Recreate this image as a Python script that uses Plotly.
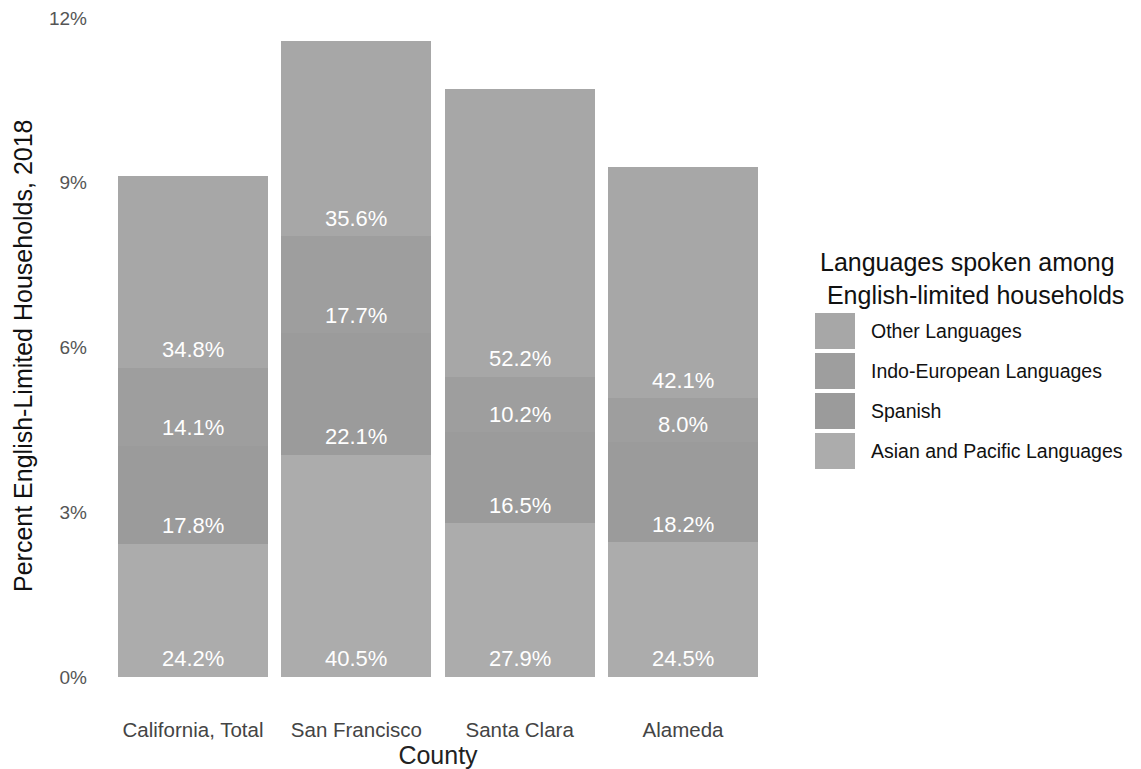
import numpy as np
import plotly.graph_objects as go

counties = ["California, Total", "San Francisco", "Santa Clara", "Alameda"]

# segment heights (percent of households)
asian = [2.43, 4.05, 2.80, 2.45]
spanish = [1.78, 2.21, 1.66, 1.82]
indo = [1.42, 1.77, 1.01, 0.81]
other = [3.50, 3.56, 5.24, 4.20]

# printed labels
asian_lbl = ["24.2%", "40.5%", "27.9%", "24.5%"]
spanish_lbl = ["17.8%", "22.1%", "16.5%", "18.2%"]
indo_lbl = ["14.1%", "17.7%", "10.2%", "8.0%"]
other_lbl = ["34.8%", "35.6%", "52.2%", "42.1%"]

y_ticks = [0, 3, 6, 9, 12]
y_tick_text = ["0%", "3%", "6%", "9%", "12%"]

series = [
    ("Asian and Pacific Languages", asian, asian_lbl, "#acacac"),
    ("Spanish", spanish, spanish_lbl, "#9b9b9b"),
    ("Indo-European Languages", indo, indo_lbl, "#9e9e9e"),
    ("Other Languages", other, other_lbl, "#a7a7a7"),
]
legend_order = ["Other Languages", "Indo-European Languages", "Spanish",
                "Asian and Pacific Languages"]
legend_title = "Languages spoken among<br> English-limited households"
y_title = "Percent English-Limited Households, 2018"

FONT = "Liberation Sans, Arial, sans-serif"
# the page adds an 8px body margin; the figure is sized to fit the window
OFF = 8
W, H = 1141 - OFF, 769 - OFF
ML, MR, MT, MB = 87, 360, 0, 60

fig = go.Figure()
base = np.zeros(len(counties))
annos = []
for name, vals, lbls, col in series:
    fig.add_trace(go.Bar(
        x=counties, y=vals, name=name, marker=dict(color=col, line=dict(width=0)),
        showlegend=False, hoverinfo="skip"))
    for c, b, t in zip(counties, base, lbls):
        annos.append(dict(x=c, y=float(b), xref="x", yref="y", text=t,
                          showarrow=False, yanchor="middle", yshift=18,
                          font=dict(color="white", size=22, family=FONT)))
    base = base + np.array(vals)

# manual legend (large swatches like the original), positions in page pixels
pw, ph = W - ML - MR, H - MT - MB
def px_x(p):
    return (p - OFF - ML) / pw
def px_y(p):
    return (H - MB - (p - OFF)) / ph

colors = {n: c for n, _, _, c in series}
shapes = []
annos.append(dict(text=legend_title, xref="paper", yref="paper",
                  x=px_x(818), y=px_y(246), xanchor="left", yanchor="top",
                  showarrow=False, align="left",
                  font=dict(size=25, color="#111", family=FONT)))
for i, name in enumerate(legend_order):
    top = 313 + 40 * i
    shapes.append(dict(type="rect", xref="paper", yref="paper",
                       x0=px_x(815), x1=px_x(855), y0=px_y(top + 36), y1=px_y(top),
                       fillcolor=colors[name], line=dict(width=0)))
    annos.append(dict(text=name, xref="paper", yref="paper",
                      x=px_x(869), y=px_y(top + 18), xanchor="left", yanchor="middle",
                      showarrow=False, font=dict(size=19.5, color="#111", family=FONT)))

# y-axis title
annos.append(dict(text=y_title, xref="paper", yref="paper", textangle=-90,
                  x=px_x(23), y=px_y(356), xanchor="center", yanchor="middle",
                  showarrow=False, font=dict(size=25, color="#111", family=FONT)))

fig.update_layout(
    barmode="stack", bargap=0.08,
    width=W, height=H,
    margin=dict(l=ML, r=MR, t=MT, b=MB),
    plot_bgcolor="white", paper_bgcolor="white",
    font=dict(family=FONT, color="#222"),
    showlegend=False,
    shapes=shapes, annotations=annos,
    xaxis=dict(
        title=dict(text="County", font=dict(size=25, color="#222"), standoff=6),
        tickfont=dict(size=20.5, color="#444"), showgrid=False, zeroline=False,
        ticks="", ticklen=0, range=[-0.6, 3.6], automargin=False,
        ticklabelstandoff=6,
    ),
    yaxis=dict(
        range=[-0.583, 12.182], tickvals=y_ticks, ticktext=y_tick_text,
        tickfont=dict(size=19, color="#555"), showgrid=False, zeroline=False,
        automargin=False, ticklabelstandoff=7, ticklabeloverflow="allow",
    ),
)

fig.write_html("out.html")
